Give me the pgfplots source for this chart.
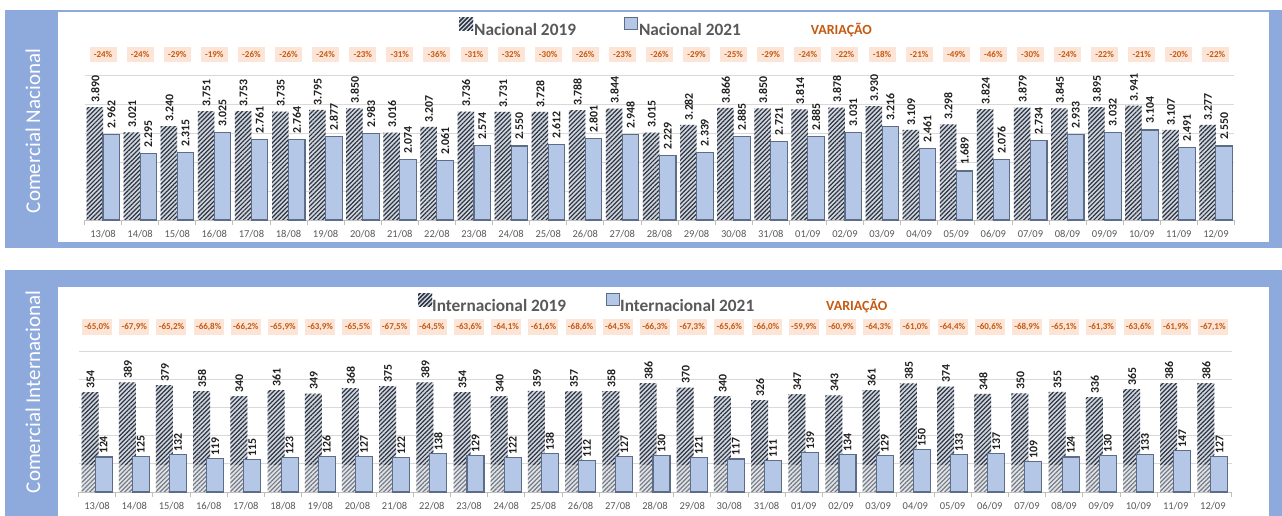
\documentclass[border=0pt]{standalone}
\usepackage{pgfplots}
\pgfplotsset{compat=1.18}
\usepackage{pgfplotstable}
\usepackage{graphicx}
\usepackage{fontspec}
\setmainfont{Carlito}
\usetikzlibrary{patterns.meta}
\definecolor{panelblue}{HTML}{8EA9DB}
\definecolor{gridgray}{HTML}{D9D9D9}
\definecolor{axisgray}{HTML}{BFBFBF}
\definecolor{ticktext}{HTML}{595959}
\definecolor{labtext}{HTML}{1F1F1F}
\definecolor{bar21}{HTML}{B4C7E7}
\definecolor{bar21edge}{HTML}{5D6D88}
\definecolor{hatchline}{HTML}{2B3444}
\definecolor{hatchbg}{HTML}{D3D7DD}
\definecolor{boxfill}{HTML}{FCE4D6}
\definecolor{boxtext}{HTML}{C55A11}

\pgfplotstableread{
x a b v
0 3.890 2.962 -24
1 3.021 2.295 -24
2 3.240 2.315 -29
3 3.751 3.025 -19
4 3.753 2.761 -26
5 3.735 2.764 -26
6 3.795 2.877 -24
7 3.850 2.983 -23
8 3.016 2.074 -31
9 3.207 2.061 -36
10 3.736 2.574 -31
11 3.731 2.550 -32
12 3.728 2.612 -30
13 3.788 2.801 -26
14 3.844 2.948 -23
15 3.015 2.229 -26
16 3.282 2.339 -29
17 3.866 2.885 -25
18 3.850 2.721 -29
19 3.814 2.885 -24
20 3.878 3.031 -22
21 3.930 3.216 -18
22 3.109 2.461 -21
23 3.298 1.689 -49
24 3.824 2.076 -46
25 3.879 2.734 -30
26 3.845 2.933 -24
27 3.895 3.032 -22
28 3.941 3.104 -21
29 3.107 2.491 -20
30 3.277 2.550 -22
}\nac

\pgfplotstableread{
x a b v
0 354 124 -65,0
1 389 125 -67,9
2 379 132 -65,2
3 358 119 -66,8
4 340 115 -66,2
5 361 123 -65,9
6 349 126 -63,9
7 368 127 -65,5
8 375 122 -67,5
9 389 138 -64,5
10 354 129 -63,6
11 340 122 -64,1
12 359 138 -61,6
13 357 112 -68,6
14 358 127 -64,5
15 386 130 -66,3
16 370 121 -67,3
17 340 117 -65,6
18 326 111 -66,0
19 347 139 -59,9
20 343 134 -60,9
21 361 129 -64,3
22 385 150 -61,0
23 374 133 -64,4
24 348 137 -60,6
25 350 109 -68,9
26 355 124 -65,1
27 336 130 -61,3
28 365 133 -63,6
29 386 147 -61,9
30 386 127 -67,1
}\intl

\pgfplotsset{
  panel/.style={
    scale only axis, clip=false,
    xmin=-0.5, xmax=30.5,
    axis x line*=bottom, axis y line*=left,
    y axis line style={draw=none},
    x axis line style={draw=axisgray, line width=0.8pt},
    ytick style={draw=none}, yticklabels={},
    ymajorgrids, major grid style={draw=gridgray, line width=0.8pt},
    xtick={0,...,30},
    xticklabels={13/08,14/08,15/08,16/08,17/08,18/08,19/08,20/08,21/08,22/08,23/08,24/08,25/08,26/08,27/08,28/08,29/08,30/08,31/08,01/09,02/09,03/09,04/09,05/09,06/09,07/09,08/09,09/09,10/09,11/09,12/09},
    major tick length=0pt,
    minor xtick={-0.5,0.5,...,30.5},
    minor tick length=5pt, tick align=outside,
    minor x tick style={draw=axisgray, line width=0.8pt},
    xticklabel style={font=\fontsize{10.5}{12}\selectfont, text=ticktext, yshift=-7pt},
    /pgf/number format/assume math mode=true,
    legend style={draw=none, fill=none, inner sep=0pt, legend columns=-1,
      font=\bfseries\fontsize{17.3}{20}\selectfont, text=ticktext,
      nodes={inner sep=0pt, outer sep=0pt}},
  },
  hatched/.style={draw=none, fill=hatchbg,
    postaction={pattern={Lines[angle=45,distance=3.1pt,line width=1.2pt]}, pattern color=hatchline},
    legend image code/.code={\path[draw=none, fill=hatchbg, postaction={pattern={Lines[angle=45,distance=3.1pt,line width=1.2pt]}, pattern color=hatchline}] (0pt,-0.5pt) rectangle (14pt,12.5pt);}},
  plain21/.style={draw=bar21edge, line width=1.1pt, fill=bar21,
    legend image code/.code={\path[draw=bar21edge, line width=1pt, fill=bar21] (0.5pt,0pt) rectangle (13.5pt,12pt);}},
  barlab/.style 2 args={nodes near coords style={anchor=south, inner ysep=#1, inner xsep=0pt,
      xshift=#2, font=\bfseries\fontsize{11.8}{12}\selectfont, text=labtext}},
  varbox/.style n args={3}{draw=none, mark=none, only marks, point meta=explicit symbolic,
    nodes near coords={\pgfplotspointmeta\%},
    nodes near coords style={anchor=center, fill=boxfill, text=boxtext, inner sep=0pt,
      minimum width=#1, minimum height=#2, font=\bfseries\fontsize{9}{10}\selectfont},
    legend image code/.code={\path (0pt,0pt) rectangle (#3,1pt);}},
}

\begin{document}
\begin{tikzpicture}[x=1pt,y=1pt]
\useasboundingbox (0,0) rectangle (1282,516);
\fill[white] (0,0) rectangle (1282,516);
% top frame
\fill[panelblue] (5,504) rectangle (1282,506);
\fill[panelblue] (5,268) rectangle (58,506);
\fill[panelblue] (1269,268) rectangle (1282,506);
\fill[panelblue] (5,268) rectangle (1282,274);
% bottom frame
\fill[panelblue] (5,229) rectangle (1282,246);
\fill[panelblue] (5,0) rectangle (58,246);
\fill[panelblue] (1269,0) rectangle (1282,246);
\node[rotate=90, text=white, font=\fontsize{21}{24}\selectfont] at (33,385) {Comercial Nacional};
\node[rotate=90, text=white, font=\fontsize{21}{24}\selectfont] at (33,124) {Comercial Internacional};

\begin{axis}[panel, at={(84.5pt,296pt)}, anchor=south west, width=1150pt, height=145pt,
  ymin=0, ymax=5, ytick={0,1,2,3,4,5},
  legend style={at={(axis description cs:0.3257,1.331)}, anchor=west,
    /tikz/every odd column/.append style={column sep=1pt},
    /tikz/every even column/.append style={column sep=48pt}}]
\addplot[ybar, bar width=16.5pt, bar shift=-8.25pt, hatched, barlab={4.5pt}{-7.8pt},
  nodes near coords={\rotatebox{90}{\pgfmathprintnumber[fixed,fixed zerofill,precision=3]{\pgfplotspointmeta}}}]
  table[x=x,y=a]{\nac};
\addlegendentry{Nacional 2019}
\addplot[ybar, bar width=16.5pt, bar shift=8.25pt, plain21, barlab={5.5pt}{8.25pt},
  nodes near coords={\rotatebox{90}{\pgfmathprintnumber[fixed,fixed zerofill,precision=3]{\pgfplotspointmeta}}}]
  table[x=x,y=b]{\nac};
\addlegendentry{Nacional 2021}
\addplot[varbox={27pt}{15pt}{21pt}] table[x=x,y expr=5.72,meta=v]{\nac};
\addlegendentry{\textcolor{boxtext}{\fontsize{14}{16}\selectfont VARIAÇÃO}}
\end{axis}

\begin{axis}[panel, at={(78.5pt,24pt)}, anchor=south west, width=1153pt, height=141pt,
  ymin=0, ymax=500, ytick={0,100,...,500},
  legend style={at={(axis description cs:0.2944,1.340)}, anchor=west,
    /tikz/every odd column/.append style={column sep=0pt},
    /tikz/every even column/.append style={column sep=40pt}}]
\addplot[ybar, bar width=17pt, bar shift=-7pt, hatched, barlab={3.5pt}{-6.5pt},
  nodes near coords={\rotatebox{90}{\pgfmathprintnumber[fixed,precision=0]{\pgfplotspointmeta}}}]
  table[x=x,y=a]{\intl};
\addlegendentry{Internacional 2019}
\fill[white, opacity=0.35] (axis cs:-0.5,0.5) rectangle (axis cs:30.5,97);
\addplot[ybar, bar width=17pt, bar shift=6.5pt, plain21, barlab={2.5pt}{6.5pt},
  nodes near coords={\rotatebox{90}{\pgfmathprintnumber[fixed,precision=0]{\pgfplotspointmeta}}}]
  table[x=x,y=b]{\intl};
\addlegendentry{Internacional 2021}
\addplot[varbox={30pt}{16pt}{32pt}] table[x=x,y expr=585,meta=v]{\intl};
\addlegendentry{\textcolor{boxtext}{\fontsize{14}{16}\selectfont VARIAÇÃO}}
\end{axis}
\end{tikzpicture}
\end{document}
